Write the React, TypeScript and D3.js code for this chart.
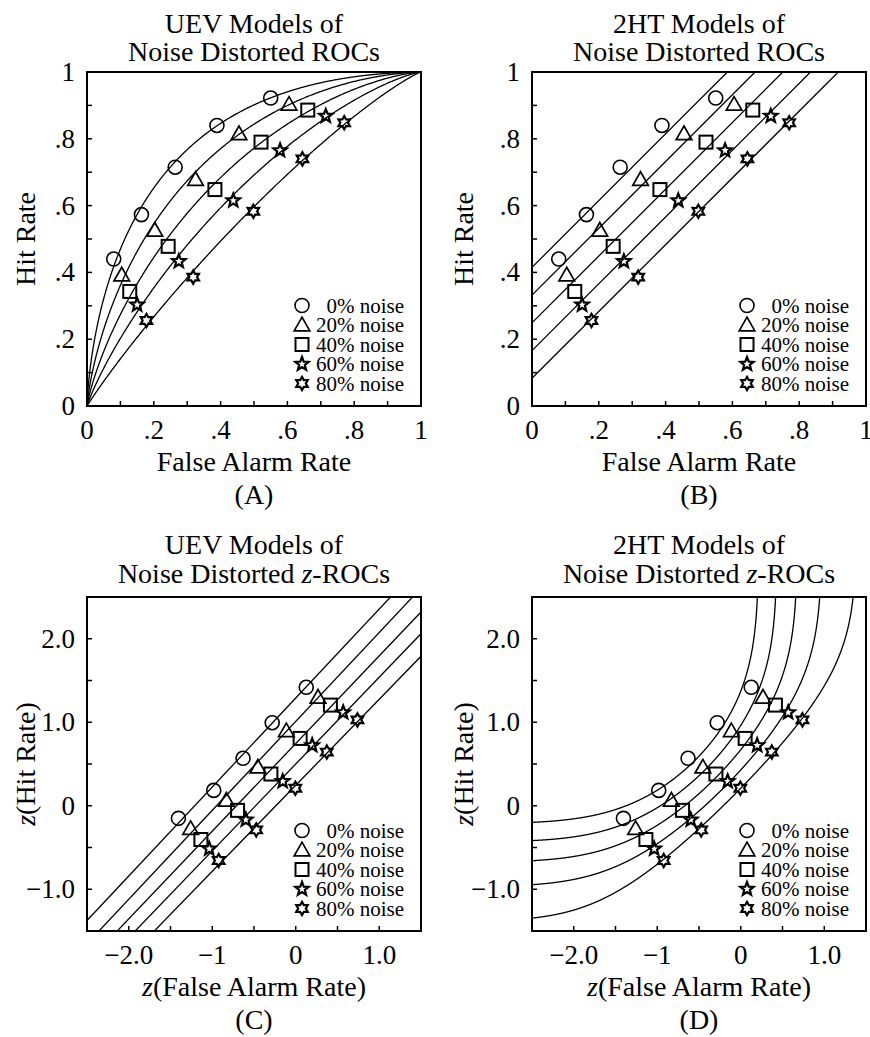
import React from 'react';
import * as d3 from 'd3';

// ---- data ----
const noiseLabels = ['0% noise', '20% noise', '40% noise', '60% noise', '80% noise'];
const markerShapes = ['circle', 'triangle', 'square', 'star', 'hexagram'];

// observed false alarm / hit rates, one row per noise level
const falseAlarmRates = [
  [0.08, 0.163, 0.264, 0.389, 0.55],
  [0.104, 0.203, 0.325, 0.455, 0.605],
  [0.128, 0.243, 0.383, 0.521, 0.661],
  [0.15, 0.275, 0.438, 0.578, 0.715],
  [0.178, 0.318, 0.498, 0.645, 0.77],
];
const hitRates = [
  [0.44, 0.573, 0.715, 0.84, 0.922],
  [0.392, 0.526, 0.678, 0.815, 0.903],
  [0.343, 0.478, 0.648, 0.79, 0.886],
  [0.303, 0.433, 0.615, 0.765, 0.868],
  [0.256, 0.386, 0.583, 0.74, 0.848],
];

// UEV fits: z(H) = intercept + slope * z(F)
const uevIntercepts = [1.29, 1.01, 0.745, 0.5, 0.245];
const uevSlopes = [1.066, 1.065, 1.05, 1.04, 1.03];
// 2HT fits: H = F + d
const twoHTDetection = [0.415, 0.332, 0.249, 0.166, 0.083];

const rocTickValues = [0, 0.2, 0.4, 0.6, 0.8, 1];
const rocTickLabels = ['0', '.2', '.4', '.6', '.8', '1'];
const zXTickValues = [-2, -1, 0, 1];
const zXTickLabels = ['\u22122.0', '\u22121', '0', '1.0'];
const zYTickValues = [-1, 0, 1, 2];
const zYTickLabels = ['\u22121.0', '0', '1.0', '2.0'];

// ---- normal distribution helpers ----
function erf(x: number) {
  const s = x < 0 ? -1 : 1;
  const a = Math.abs(x);
  const t = 1 / (1 + 0.3275911 * a);
  const y =
    1 -
    ((((1.061405429 * t - 1.453152027) * t + 1.421413741) * t - 0.284496736) * t + 0.254829592) *
      t *
      Math.exp(-a * a);
  return s * y;
}
const phi = (z: number) => 0.5 * (1 + erf(z / Math.SQRT2));

function phiInv(p: number) {
  const a = [-3.969683028665376e1, 2.209460984245205e2, -2.759285104469687e2, 1.38357751867269e2, -3.066479806614716e1, 2.506628277459239];
  const b = [-5.447609879822406e1, 1.615858368580409e2, -1.556989798598866e2, 6.680131188771972e1, -1.328068155288572e1];
  const c = [-7.784894002430293e-3, -3.223964580411365e-1, -2.400758277161838, -2.549732539343734, 4.374664141464968, 2.938163982698783];
  const d = [7.784695709041462e-3, 3.224671290700398e-1, 2.445134137142996, 3.754408661907416];
  const pl = 0.02425;
  if (p < pl) {
    const q = Math.sqrt(-2 * Math.log(p));
    return (((((c[0] * q + c[1]) * q + c[2]) * q + c[3]) * q + c[4]) * q + c[5]) / ((((d[0] * q + d[1]) * q + d[2]) * q + d[3]) * q + 1);
  }
  if (p > 1 - pl) {
    const q = Math.sqrt(-2 * Math.log(1 - p));
    return -(((((c[0] * q + c[1]) * q + c[2]) * q + c[3]) * q + c[4]) * q + c[5]) / ((((d[0] * q + d[1]) * q + d[2]) * q + d[3]) * q + 1);
  }
  const q = p - 0.5;
  const r = q * q;
  return ((((((a[0] * r + a[1]) * r + a[2]) * r + a[3]) * r + a[4]) * r + a[5]) * q) / (((((b[0] * r + b[1]) * r + b[2]) * r + b[3]) * r + b[4]) * r + 1);
}

// ---- markers ----
function starPath(n: number, outer: number, inner: number, rot = -Math.PI / 2) {
  const pts: [number, number][] = [];
  for (let i = 0; i < n * 2; i++) {
    const r = i % 2 === 0 ? outer : inner;
    const ang = rot + (i * Math.PI) / n;
    pts.push([r * Math.cos(ang), r * Math.sin(ang)]);
  }
  return 'M' + pts.map((p) => p[0].toFixed(2) + ',' + p[1].toFixed(2)).join('L') + 'Z';
}

function Marker({ shape, cx, cy }: { shape: string; cx: number; cy: number }) {
  const common = { fill: 'none', stroke: '#000' };
  const t = `translate(${cx},${cy})`;
  if (shape === 'circle') return <circle cx={cx} cy={cy} r={7} {...common} strokeWidth={1.6} />;
  if (shape === 'triangle')
    return <path transform={t} d="M0,-7.8L7.8,5.8L-7.8,5.8Z" {...common} strokeWidth={1.7} strokeLinejoin="miter" />;
  if (shape === 'square') return <rect x={cx - 6.5} y={cy - 6.5} width={13} height={13} {...common} strokeWidth={2} />;
  if (shape === 'star') return <path transform={t} d={starPath(5, 7, 3)} {...common} strokeWidth={2.2} />;
  return <path transform={t} d={starPath(6, 6.6, 3.8)} {...common} strokeWidth={2.2} />;
}

// ---- layout ----
const PLOT = 334;
const FONT = "'Liberation Serif', 'Times New Roman', Times, serif";

type PanelSpec = {
  id: string;
  left: number;
  top: number;
  space: 'roc' | 'z';
  model: 'uev' | '2ht';
  titleLine1: string;
  letter: string;
  yLabelOffset: number;
  titleOffsets: [number, number];
};

const panels: PanelSpec[] = [
  { id: 'A', left: 87, top: 72, space: 'roc', model: 'uev', titleLine1: 'UEV Models of', letter: '(A)', yLabelOffset: 52, titleOffsets: [39, 11] },
  { id: 'B', left: 532, top: 72, space: 'roc', model: '2ht', titleLine1: '2HT Models of', letter: '(B)', yLabelOffset: 59, titleOffsets: [39, 11] },
  { id: 'C', left: 87, top: 597, space: 'z', model: 'uev', titleLine1: 'UEV Models of', letter: '(C)', yLabelOffset: 52, titleOffsets: [43, 14] },
  { id: 'D', left: 532, top: 597, space: 'z', model: '2ht', titleLine1: '2HT Models of', letter: '(D)', yLabelOffset: 59, titleOffsets: [43, 14] },
];

function modelCurve(space: 'roc' | 'z', model: 'uev' | '2ht', i: number): [number, number][] {
  const pts: [number, number][] = [];
  if (model === 'uev') {
    const a = uevIntercepts[i];
    const b = uevSlopes[i];
    if (space === 'z') {
      for (const zf of [-3, 2]) pts.push([zf, a + b * zf]);
    } else {
      pts.push([0, 0]);
      for (let zf = -6; zf <= 6; zf += 0.01) pts.push([phi(zf), phi(a + b * zf)]);
      pts.push([1, 1]);
    }
  } else {
    const dd = twoHTDetection[i];
    if (space === 'roc') {
      pts.push([0, dd], [1 - dd, 1]);
    } else {
      for (let zf = -2.6; zf <= 1.6; zf += 0.002) {
        const h = phi(zf) + dd;
        if (h >= 0.99995) {
          pts.push([phiInv(1 - dd - 0.00004), 3.9]);
          break;
        }
        pts.push([zf, phiInv(h)]);
      }
    }
  }
  return pts;
}

function Panel({ spec }: { spec: PanelSpec }) {
  const { id, left, top, space, model } = spec;
  const isZ = space === 'z';
  const x = d3.scaleLinear().domain(isZ ? [-2.5, 1.5] : [0, 1]).range([left, left + PLOT]);
  const y = d3.scaleLinear().domain(isZ ? [-1.5, 2.5] : [0, 1]).range([top + PLOT, top]);
  const step = isZ ? 0.5 : 0.1;
  const xMinor = d3.range(1, Math.round((x.domain()[1] - x.domain()[0]) / step)).map((k) => x.domain()[0] + k * step);
  const yMinor = d3.range(1, Math.round((y.domain()[1] - y.domain()[0]) / step)).map((k) => y.domain()[0] + k * step);
  const xTicks = isZ ? zXTickValues : rocTickValues;
  const xTickText = isZ ? zXTickLabels : rocTickLabels;
  const yTicks = isZ ? zYTickValues : rocTickValues;
  const yTickText = isZ ? zYTickLabels : rocTickLabels;
  const tf = (v: number) => (isZ ? phiInv(v) : v);
  const line = d3
    .line<[number, number]>()
    .x((d) => x(d[0]))
    .y((d) => y(d[1]));
  const bottom = top + PLOT;
  const cxm = left + PLOT / 2;
  const cym = top + PLOT / 2;
  const clipId = `clip-${id}`;
  const italicZ = <tspan fontStyle="italic">z</tspan>;

  return (
    <g>
      <defs>
        <clipPath id={clipId}>
          <rect x={left} y={top} width={PLOT} height={PLOT} />
        </clipPath>
      </defs>
      {/* title */}
      <text x={cxm} y={top - spec.titleOffsets[0]} textAnchor="middle" fontSize={28}>
        {spec.titleLine1}
      </text>
      <text x={cxm} y={top - spec.titleOffsets[1]} textAnchor="middle" fontSize={28}>
        {isZ ? (
          <>
            Noise Distorted {italicZ}-ROCs
          </>
        ) : (
          'Noise Distorted ROCs'
        )}
      </text>

      {/* model curves */}
      <g clipPath={`url(#${clipId})`}>
        {noiseLabels.map((_, i) => (
          <path key={i} d={line(modelCurve(space, model, i)) || ''} fill="none" stroke="#000" strokeWidth={1.3} />
        ))}
      </g>

      {/* observed points */}
      {falseAlarmRates.map((row, i) =>
        row.map((f, j) => <Marker key={`${i}-${j}`} shape={markerShapes[i]} cx={x(tf(f))} cy={y(tf(hitRates[i][j]))} />)
      )}

      {/* ticks */}
      {xMinor.map((v, k) => (
        <line key={'xt' + k} x1={x(v)} x2={x(v)} y1={bottom} y2={bottom - 5} stroke="#000" strokeWidth={1.5} />
      ))}
      {yMinor.map((v, k) => (
        <line key={'yt' + k} x1={left} x2={left + 5} y1={y(v)} y2={y(v)} stroke="#000" strokeWidth={1.5} />
      ))}

      {/* frame */}
      <rect x={left} y={top} width={PLOT} height={PLOT} fill="none" stroke="#000" strokeWidth={2} />

      {/* tick labels */}
      {xTicks.map((v, k) => (
        <text key={'xl' + k} x={x(v)} y={bottom + 33} textAnchor="middle" fontSize={27}>
          {xTickText[k]}
        </text>
      ))}
      {yTicks.map((v, k) => (
        <text key={'yl' + k} x={left - 12} y={y(v) + 9} textAnchor="end" fontSize={27}>
          {yTickText[k]}
        </text>
      ))}

      {/* axis labels */}
      <text x={cxm} y={bottom + 65} textAnchor="middle" fontSize={28}>
        {isZ ? <>{italicZ}(False Alarm Rate)</> : 'False Alarm Rate'}
      </text>
      <text
        transform={`translate(${left - spec.yLabelOffset},${cym}) rotate(-90)`}
        textAnchor="middle"
        fontSize={28}
      >
        {isZ ? <>{italicZ}(Hit Rate)</> : 'Hit Rate'}
      </text>
      <text x={cxm} y={bottom + 98} textAnchor="middle" fontSize={28}>
        {spec.letter}
      </text>

      {/* legend */}
      {noiseLabels.map((lab, i) => {
        const ry = top + 233.5 + i * 19.5;
        return (
          <g key={'lg' + i}>
            <Marker shape={markerShapes[i]} cx={left + 215} cy={ry} />
            <text x={left + 317} y={ry + 7} textAnchor="end" fontSize={21}>
              {lab}
            </text>
          </g>
        );
      })}
    </g>
  );
}

export default function App() {
  return (
    <svg
      width={870}
      height={1037}
      style={{ position: 'absolute', left: 0, top: 0, background: '#fff' }}
      fontFamily={FONT}
    >
      <rect x={0} y={0} width={870} height={1037} fill="#fff" />
      {panels.map((p) => (
        <Panel key={p.id} spec={p} />
      ))}
    </svg>
  );
}
